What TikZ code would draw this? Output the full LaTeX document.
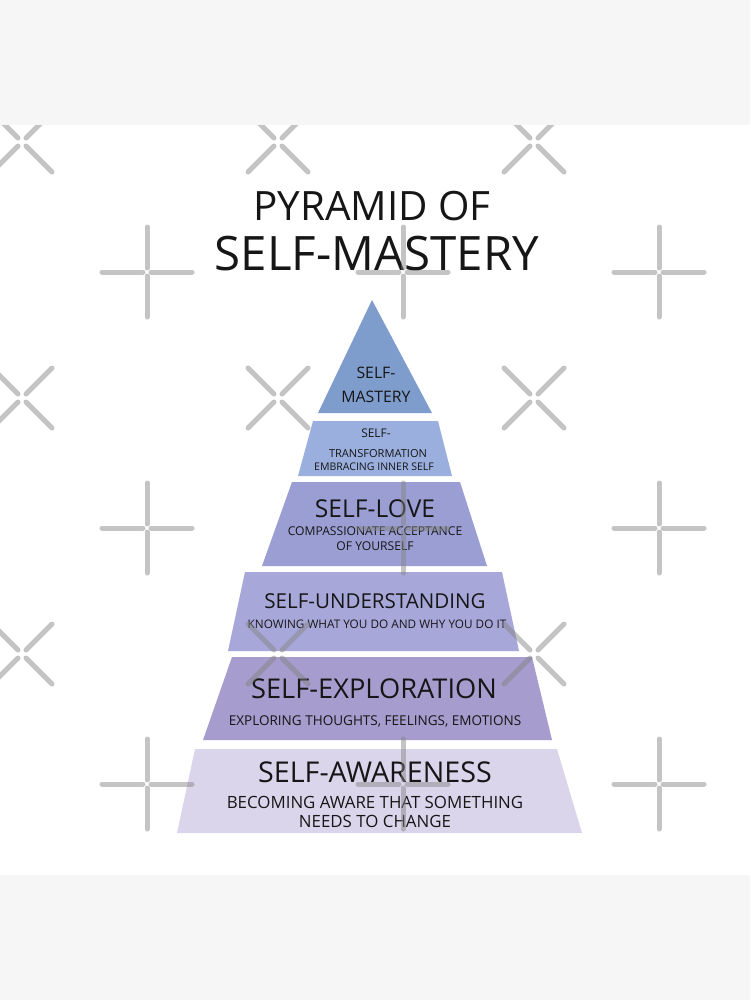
\documentclass[tikz,border=0pt]{standalone}
\usepackage{fontspec}
\setmainfont{Open Sans}
\usepackage{tikz}

\definecolor{bandgray}{RGB}{246,246,246}
\definecolor{ink}{RGB}{22,22,22}
\definecolor{wmgray}{RGB}{132,132,132}
\definecolor{tierA}{RGB}{127,157,204}
\definecolor{tierB}{RGB}{154,175,222}
\definecolor{tierC}{RGB}{154,158,211}
\definecolor{tierD}{RGB}{167,168,217}
\definecolor{tierE}{RGB}{166,156,205}
\definecolor{tierF}{RGB}{219,213,236}

\begin{document}
\begin{tikzpicture}[x=0.2mm, y=-0.2mm,
		every node/.style={inner sep=0pt, anchor=base, text=ink},
		wmark/.style={draw=wmgray, opacity=0.48, line width=1mm, line cap=round}
		]
		
		% --- Page ---
		\useasboundingbox (0,0) rectangle (750,1000);
		\fill[bandgray] (0,0) rectangle (750,125);
		\fill[white] (0,125) rectangle (750,875);
		\fill[bandgray] (0,875) rectangle (750,1000);
		
		% --- Title ---
		\node[font=\fontsize{23pt}{26pt}\selectfont] (title1) at (372,220) {PYRAMID OF};
		\node[font=\fontsize{27pt}{30pt}\selectfont] (title2) at (377,270) {SELF-MASTERY};
		
		% --- Tiers (top to bottom) ---
		\fill[tierA] (372,300) -- (432,413) -- (318,413) -- cycle;
		\fill[tierB] (313,421) -- (438,421) -- (452,476) -- (298,476) -- cycle;
		\fill[tierC] (292,482) -- (460,482) -- (487,566) -- (262,566) -- cycle;
		\fill[tierD] (245,572) -- (502,572) -- (519,651) -- (228,651) -- cycle;
		\fill[tierE] (232,657) -- (532,657) -- (552,740) -- (203,740) -- cycle;
		\fill[tierF] (195,749) -- (557,749) -- (582,833) -- (177,833) -- cycle;
		
		% --- Tier labels ---
		\node[font=\fontsize{9pt}{10pt}\selectfont] (mastA) at (376,378) {SELF-};
		\node[font=\fontsize{9pt}{10pt}\selectfont] (mastB) at (376,402) {MASTERY};
		
		\node[font=\fontsize{6.8pt}{8pt}\selectfont] (transA) at (376,437) {SELF-};
		\node[font=\fontsize{6.3pt}{7pt}\selectfont] (transB) at (378,457) {TRANSFORMATION};
		\node[font=\fontsize{6pt}{7pt}\selectfont] (transC) at (374,470) {EMBRACING INNER SELF};
		
		\node[font=\fontsize{14pt}{16pt}\selectfont] (loveA) at (375,517) {SELF-LOVE};
		\node[font=\fontsize{6.9pt}{8pt}\selectfont] (loveB) at (375,535) {COMPASSIONATE ACCEPTANCE};
		\node[font=\fontsize{6.9pt}{8pt}\selectfont] (loveC) at (375,550) {OF YOURSELF};
		
		\node[font=\fontsize{11.7pt}{14pt}\selectfont] (undA) at (375,608) {SELF-UNDERSTANDING};
		\node[font=\fontsize{6.7pt}{8pt}\selectfont] (undB) at (377,628) {KNOWING WHAT YOU DO AND WHY YOU DO IT};
		
		\node[font=\fontsize{15.5pt}{17pt}\selectfont] (explA) at (374,698) {SELF-EXPLORATION};
		\node[font=\fontsize{7.7pt}{9pt}\selectfont] (explB) at (375,725) {EXPLORING THOUGHTS, FEELINGS, EMOTIONS};
		
		\node[font=\fontsize{16.3pt}{18pt}\selectfont] (awarA) at (375,782) {SELF-AWARENESS};
		\node[font=\fontsize{9.6pt}{11pt}\selectfont] (awarB) at (375,808) {BECOMING AWARE THAT SOMETHING};
		\node[font=\fontsize{9.6pt}{11pt}\selectfont] (awarC) at (375,827) {NEEDS TO CHANGE};
		
		% --- Watermark crosses ---
		\begin{scope}
			\clip (0,125) rectangle (750,875);
			\foreach \cx in {22,278,534} {
				\foreach \cy in {142,398,654} {
					\draw[wmark] (\cx+4,\cy-4) -- (\cx+30,\cy-30);
					\draw[wmark] (\cx-4,\cy-4) -- (\cx-30,\cy-30);
					\draw[wmark] (\cx+4,\cy+4) -- (\cx+30,\cy+30);
					\draw[wmark] (\cx-4,\cy+4) -- (\cx-30,\cy+30);
				}
			}
			\foreach \cx in {147,403,659} {
				\foreach \cy in {272,528,784} {
					\draw[wmark] (\cx+4,\cy) -- (\cx+45,\cy);
					\draw[wmark] (\cx-4,\cy) -- (\cx-45,\cy);
					\draw[wmark] (\cx,\cy+4) -- (\cx,\cy+45);
					\draw[wmark] (\cx,\cy-4) -- (\cx,\cy-45);
				}
			}
		\end{scope}
		
	\end{tikzpicture}
\end{document}
